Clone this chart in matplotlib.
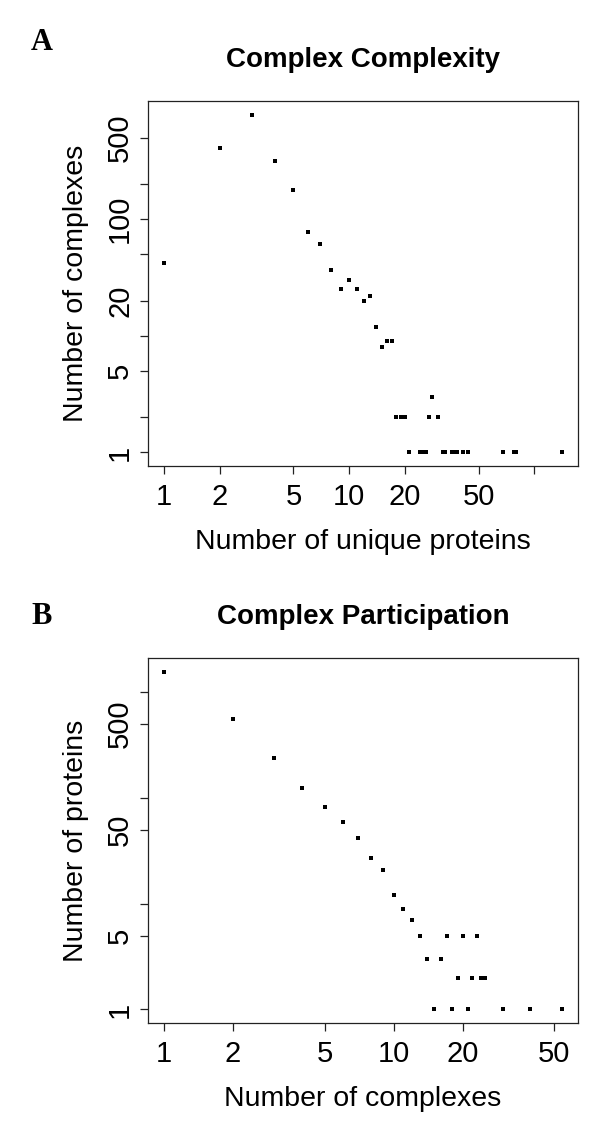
import numpy as np
import matplotlib
matplotlib.use('Agg')
import matplotlib.pyplot as plt
from matplotlib.ticker import FixedLocator, FixedFormatter, NullLocator

# Panel A: complex size (unique proteins) vs number of complexes
sizeA = [1, 2, 3, 4, 5, 6, 7, 8, 9, 10, 11, 12, 13, 14, 15, 16, 17, 18, 19, 20,
         21, 24, 25, 26, 27, 28, 30, 32, 33, 36, 37, 38, 41, 44, 68, 78, 80, 141]
countA = [42, 406, 788, 316, 178, 78, 61, 37, 25, 30, 25, 20, 22, 12, 8, 9, 9, 2, 2, 2,
          1, 1, 1, 1, 2, 3, 2, 1, 1, 1, 1, 1, 1, 1, 1, 1, 1, 1]

# Panel B: complexes per protein vs number of proteins
partB = [1, 2, 3, 4, 5, 6, 7, 8, 9, 10, 11, 12, 13, 14, 15, 16, 17, 18, 19, 20,
         21, 22, 23, 24, 25, 30, 39, 54]
countB = [1563, 554, 240, 124, 82, 59, 42, 27, 21, 12, 9, 7, 5, 3, 1, 3, 5, 1, 2, 5,
          1, 2, 5, 2, 2, 1, 1, 1]

# tick positions and which ones get a label
xticksA = [1, 2, 5, 10, 20, 50, 100]
xlabsA = ['1', '2', '5', '10', '20', '50', '']
yticksA = [1, 2, 5, 10, 20, 50, 100, 200, 500]
ylabsA = ['1', '', '5', '', '20', '', '100', '', '500']
xticksB = [1, 2, 5, 10, 20, 50]
xlabsB = ['1', '2', '5', '10', '20', '50']
yticksB = [1, 5, 10, 50, 100, 500, 1000]
ylabsB = ['1', '5', '', '50', '', '500', '']

W, H = 600, 1127
fig = plt.figure(figsize=(W / 100, H / 100), dpi=100)

lab_font = ['Liberation Sans', 'DejaVu Sans']
tick_font = ['Liberation Sans Narrow', 'Liberation Sans', 'DejaVu Sans']


def panel(box, x, y, xt, xl, yt, yl, title, xlabel, ylabel, letter, title_y, letter_y):
    l, t, r, b = box
    ax = fig.add_axes([l / W, 1 - b / H, (r - l) / W, (b - t) / H])
    ax.plot(x, y, 's', color='black', markersize=2.6, markeredgewidth=0)
    ax.set_xscale('log')
    ax.set_yscale('log')
    ax.margins(0.04)
    ax.xaxis.set_major_locator(FixedLocator(xt))
    ax.xaxis.set_major_formatter(FixedFormatter(xl))
    ax.yaxis.set_major_locator(FixedLocator(yt))
    ax.yaxis.set_major_formatter(FixedFormatter(yl))
    ax.xaxis.set_minor_locator(NullLocator())
    ax.yaxis.set_minor_locator(NullLocator())
    for s in ax.spines.values():
        s.set_linewidth(0.9)
        s.set_color('#222222')
    ax.tick_params(length=6, width=0.9, color='#222222', labelsize=21, pad=6)
    ax.tick_params(axis='y', pad=4)
    for lab in ax.get_xticklabels():
        lab.set_family(tick_font)
    for lab in ax.get_yticklabels():
        lab.set_family(tick_font)
        lab.set_rotation(90)
        lab.set_va('center')
    ax.set_xlabel(xlabel, fontsize=20.5, family=lab_font, labelpad=13)
    ax.set_ylabel(ylabel, fontsize=20.5, family=lab_font, labelpad=12)
    fig.text((l + r) / 2 / W, 1 - title_y / H, title, ha='center', va='center',
             fontsize=20, fontweight='bold', family=lab_font)
    fig.text(42 / W, 1 - letter_y / H, letter, ha='center', va='center',
             fontsize=22, fontweight='bold', family=['Liberation Serif', 'DejaVu Serif'])
    return ax


panel((148, 101, 578, 466), sizeA, countA, xticksA, xlabsA, yticksA, ylabsA,
      'Complex Complexity', 'Number of unique proteins', 'Number of complexes', 'A', 60, 42)
panel((148, 658, 578, 1023), partB, countB, xticksB, xlabsB, yticksB, ylabsB,
      'Complex Participation', 'Number of complexes', 'Number of proteins', 'B', 617, 617)

fig.savefig('out.png', dpi=100, facecolor='white')
